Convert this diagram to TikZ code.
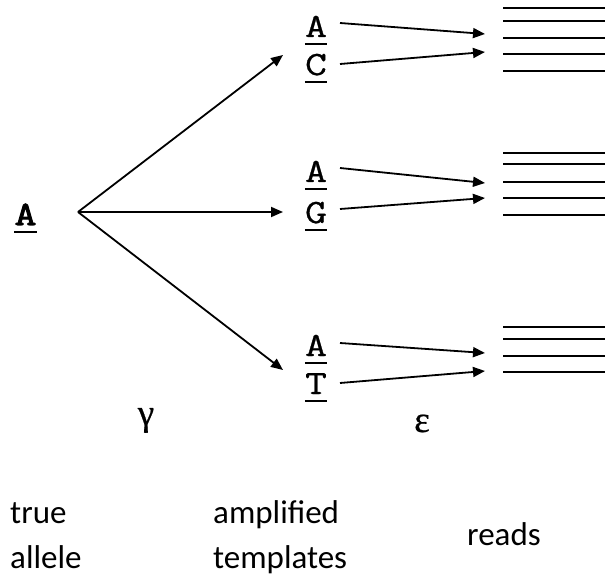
\documentclass[tikz,border=0pt]{standalone}
\usepackage{fontspec}
\setmainfont{Carlito}
\newfontfamily\monof[FakeStretch=1.25,FakeBold=0.8]{Latin Modern Mono}
\newfontfamily\monob[FakeStretch=1.25,FakeBold=3]{Latin Modern Mono}
\newfontfamily\greekf[FakeBold=0.6]{Liberation Serif}
\usetikzlibrary{arrows.meta}
\newcommand\ulin[1]{\draw[ulst] ([yshift=-7pt]#1.base west) -- ([yshift=-7pt]#1.base east);}
\begin{document}
\begin{tikzpicture}[x=1pt,y=-1pt,
 arr/.style={line width=1.8pt,-{Triangle[length=12pt,width=10pt]}},
 readline/.style={line width=1.8pt},
 ulst/.style={line width=1.8pt},
 letter/.style={inner sep=0pt,anchor=base,font=\fontsize{34}{34}\selectfont\monof},
 srcletter/.style={inner sep=0pt,anchor=base,font=\fontsize{34}{34}\selectfont\monob},
 lbl/.style={inner sep=0pt,anchor=base west,font=\fontsize{33}{40}\selectfont},
 greek/.style={inner sep=0pt,anchor=base,font=\fontsize{37}{37}\selectfont\greekf}]
\useasboundingbox (0,0) rectangle (605,577);

% source allele
\node[srcletter] (src) at (25.5,225) {A};
\ulin{src}
\coordinate (fan) at (78,212);

% templates
\node[letter] (ta1) at (316,37) {A};
\node[letter] (tc) at (316,75) {C};
\node[letter] (ta2) at (316,182) {A};
\node[letter] (tg) at (316,223) {G};
\node[letter] (ta3) at (316,356) {A};
\node[letter] (tt) at (316,394) {T};
\ulin{ta1}\ulin{tc}\ulin{ta2}\ulin{tg}\ulin{ta3}\ulin{tt}

% fan arrows
\coordinate (f1) at (283,55);
\coordinate (f2) at (283,212);
\coordinate (f3) at (283,370);
\draw[arr] (fan) -- (f1);
\draw[arr] (fan) -- (f2);
\draw[arr] (fan) -- (f3);

% template -> reads arrows
\coordinate (s1) at (340,23);  \coordinate (e1) at (485,34);
\coordinate (s2) at (340,64);  \coordinate (e2) at (485,52);
\coordinate (s3) at (340,168); \coordinate (e3) at (485,183);
\coordinate (s4) at (340,209); \coordinate (e4) at (485,198);
\coordinate (s5) at (340,343); \coordinate (e5) at (485,353);
\coordinate (s6) at (340,383); \coordinate (e6) at (485,371);
\foreach \i in {1,...,6} {\draw[arr] (s\i) -- (e\i);}

% reads
\foreach \y in {8,21,38,54} {\draw[readline] (503,\y) -- (605,\y);}
\draw[line width=1.2pt] (503,71) -- (605,71);
\foreach \y in {153,164,182,198} {\draw[readline] (503,\y) -- (605,\y);}
\draw[line width=1.2pt] (503,215) -- (605,215);
\foreach \y in {327,339,356,372} {\draw[readline] (503,\y) -- (605,\y);}

% greek
\node[greek] (gam) at (146,425) {γ};
\node[greek] (eps) at (422,432) {ε};

% labels
\node[lbl] (l1) at (10,523) {true};
\node[lbl] (l2) at (10,568) {allele};
\node[lbl] (l3) at (213,523) {amplified};
\node[lbl] (l4) at (213,568) {templates};
\node[lbl] (l5) at (467,545) {reads};
\end{tikzpicture}
\end{document}
